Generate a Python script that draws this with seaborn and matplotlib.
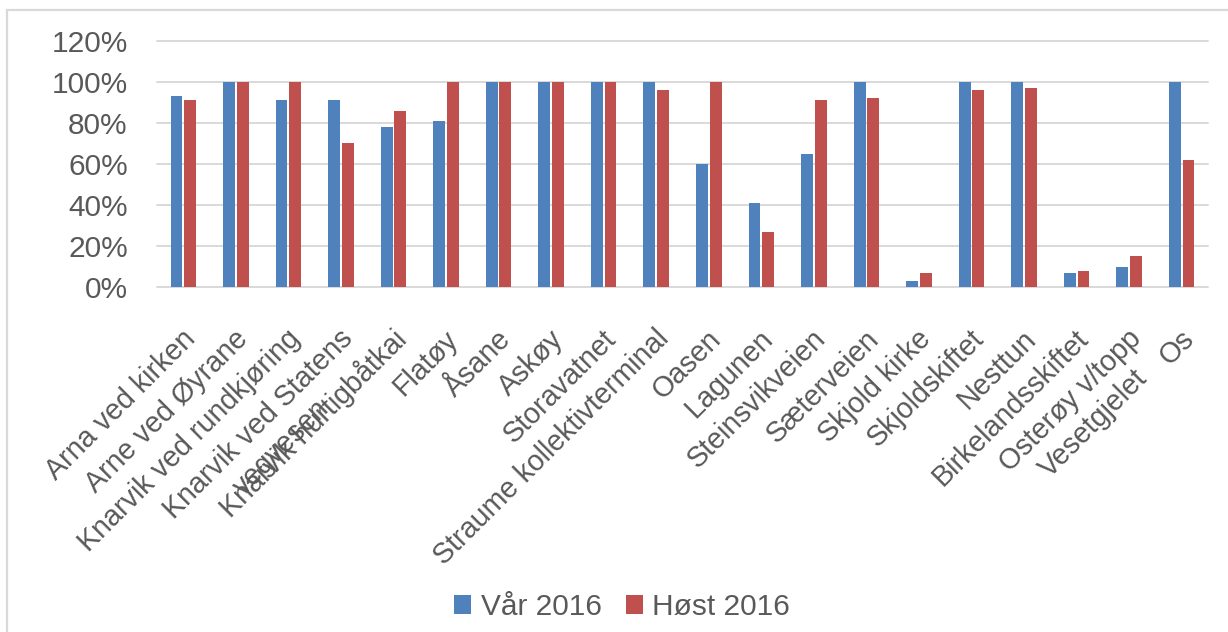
import pandas as pd
import matplotlib.pyplot as plt
import matplotlib.transforms as mtransforms
from matplotlib.patches import Rectangle
from matplotlib.ticker import PercentFormatter
import seaborn as sns

# Data (share of departures, 0-1)
stops = [
    'Arna ved kirken', 'Arne ved Øyrane', 'Knarvik ved rundkjøring',
    'Knarvik ved Statens\nvegvesen', 'Knarvik hurtigbåtkai', 'Flatøy',
    'Åsane', 'Askøy', 'Storavatnet', 'Straume kollektivterminal', 'Oasen',
    'Lagunen', 'Steinsvikveien', 'Sæterveien', 'Skjold kirke',
    'Skjoldskiftet', 'Nesttun', 'Birkelandsskiftet',
    'Osterøy v/topp\nVesetgjelet', 'Os',
]
var_2016 = [0.93, 1.00, 0.91, 0.91, 0.78, 0.81, 1.00, 1.00, 1.00, 1.00,
            0.60, 0.41, 0.65, 1.00, 0.03, 1.00, 1.00, 0.07, 0.10, 1.00]
host_2016 = [0.91, 1.00, 1.00, 0.70, 0.86, 1.00, 1.00, 1.00, 1.00, 0.96,
             1.00, 0.27, 0.91, 0.92, 0.07, 0.96, 0.97, 0.08, 0.15, 0.62]
series = ['Vår 2016', 'Høst 2016']
colors = ['#4F81BD', '#C0504D']

df = pd.DataFrame({
    'stop': stops * 2,
    'andel': var_2016 + host_2016,
    'periode': [series[0]] * len(stops) + [series[1]] * len(stops),
})

sns.set_style('white')
plt.rcParams['font.family'] = ['Liberation Sans', 'DejaVu Sans']
TXT = '#595959'
FS = 21.5
FS_X = 20.6

fig = plt.figure(figsize=(12.28, 6.32), dpi=100)
ax = fig.add_axes([157 / 1228, 1 - 287 / 632, (1208 - 157) / 1228, (287 - 41) / 632])

sns.barplot(data=df, x='stop', y='andel', hue='periode', palette=colors,
            saturation=1, width=0.52, gap=0.13, linewidth=0, ax=ax, legend=True)

ax.set_ylim(0, 1.2)
ax.set_yticks([0, 0.2, 0.4, 0.6, 0.8, 1.0, 1.2])
ax.yaxis.set_major_formatter(PercentFormatter(1.0, decimals=0))
ax.set_xlabel('')
ax.set_ylabel('')
for s in ax.spines.values():
    s.set_visible(False)
ax.yaxis.grid(True, color='#d9d9d9', linewidth=1.4)
ax.set_axisbelow(True)
for gl in ax.get_ygridlines():
    gl.set_clip_on(False)

ax.tick_params(axis='y', length=0, pad=21, labelsize=FS, labelcolor=TXT)
ax.tick_params(axis='x', length=0, pad=27, labelsize=FS_X, labelcolor=TXT)
ax.set_xticks(range(len(stops)))
ax.set_xticklabels(stops, rotation=45, ha='right', va='top',
                   rotation_mode='anchor', multialignment='center')
shift = mtransforms.ScaledTranslation(-1.5 / 72, 0, fig.dpi_scale_trans)
for lab in ax.get_xticklabels():
    lab.set_transform(lab.get_transform() + shift)

handles, labels = ax.get_legend_handles_labels()
ax.get_legend().remove()
fig.legend(handles, labels, loc='center', bbox_to_anchor=(622 / 1228, 1 - 607 / 632),
           ncol=2, frameon=False, fontsize=FS, labelcolor=TXT,
           handlelength=0.57, handleheight=0.57, handletextpad=0.32,
           columnspacing=0.8, borderaxespad=0)

# light chart border (top and left edges visible)
fig.patches.append(Rectangle((7 / 1228, -0.1), 1.2, 1.1 - 10 / 632,
                             transform=fig.transFigure, fill=False,
                             edgecolor='#d9d9d9', linewidth=1.6))

fig.savefig('out.png', dpi=100)
